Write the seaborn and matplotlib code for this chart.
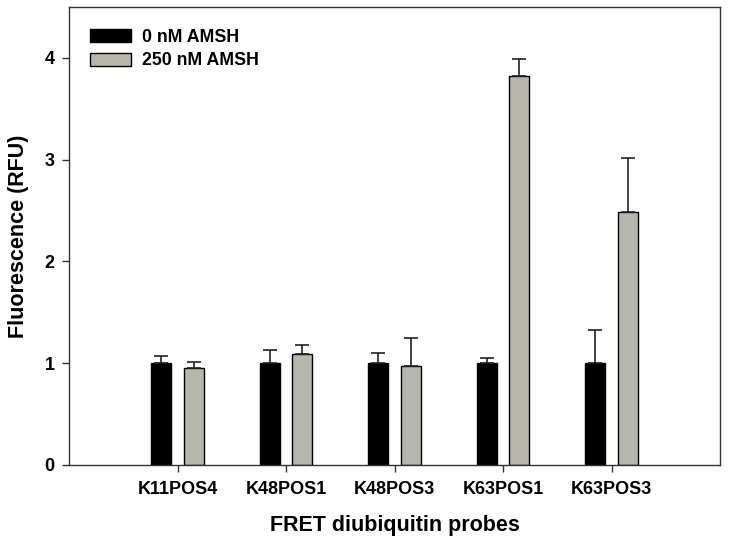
import numpy as np
import pandas as pd
import matplotlib
matplotlib.use("Agg")
import matplotlib.pyplot as plt
import seaborn as sns

# データ
probes = ["K11POS4", "K48POS1", "K48POS3", "K63POS1", "K63POS3"]
conditions = ["0 nM AMSH", "250 nM AMSH"]
mean_0nm = [1.00, 1.00, 1.00, 1.00, 1.00]
err_0nm = [0.07, 0.13, 0.10, 0.05, 0.33]
mean_250nm = [0.95, 1.09, 0.97, 3.82, 2.49]
err_250nm = [0.06, 0.09, 0.28, 0.17, 0.53]

df = pd.DataFrame({
    "probe": probes * 2,
    "condition": [conditions[0]] * len(probes) + [conditions[1]] * len(probes),
    "value": mean_0nm + mean_250nm,
})
errors = {conditions[0]: err_0nm, conditions[1]: err_250nm}

sns.set_style("ticks")
plt.rcParams["font.family"] = ["Liberation Sans", "DejaVu Sans"]
plt.rcParams["font.weight"] = "bold"
plt.rcParams["text.color"] = "black"
plt.rcParams["xtick.labelcolor"] = "black"
plt.rcParams["ytick.labelcolor"] = "black"
plt.rcParams["axes.labelcolor"] = "black"

fig = plt.figure(figsize=(7.29, 5.5), dpi=100)
ax = fig.add_axes([0.0947, 0.155, 0.893, 0.832])

sns.barplot(data=df, x="probe", y="value", hue="condition", order=probes,
            hue_order=conditions, palette=["#000000", "#b9b9ab"],
            width=0.6, gap=0.39, errorbar=None, edgecolor="black",
            linewidth=1.0, ax=ax)

# 誤差棒 (上側のみ)
for cont, cond in zip(ax.containers, conditions):
    xs = [p.get_x() + p.get_width() / 2 for p in cont.patches]
    hs = [p.get_height() for p in cont.patches]
    ax.errorbar(xs, hs, yerr=[np.zeros(len(hs)), errors[cond]], fmt="none",
                ecolor="#222222", elinewidth=1.2, capsize=5, capthick=1.2,
                zorder=1)

ax.set_xlim(-1, 5)
ax.set_ylim(0, 4.5)
ax.set_yticks([0, 1, 2, 3, 4])
for s in ax.spines.values():
    s.set_visible(True)
    s.set_linewidth(1.0)
    s.set_color("#333333")
ax.tick_params(axis="both", direction="out", length=5, width=1,
               labelsize=13, color="#333333")
ax.tick_params(axis="y", pad=5.5)
ax.tick_params(axis="x", pad=7)
for lbl in ax.get_xticklabels() + ax.get_yticklabels():
    lbl.set_fontweight("bold")

ax.set_xlabel("FRET diubiquitin probes", fontsize=15.5, fontweight="bold",
              labelpad=12)
ax.set_ylabel("Fluorescence (RFU)", fontsize=15.5, fontweight="bold",
              labelpad=11)

ax.legend(frameon=False, loc="upper left", bbox_to_anchor=(0.032, 0.953),
          borderpad=0, borderaxespad=0, handlelength=2.3, handleheight=0.75,
          handletextpad=0.62, labelspacing=0.38,
          prop={"size": 12.8, "weight": "bold"})

fig.savefig("out.png", dpi=100)
